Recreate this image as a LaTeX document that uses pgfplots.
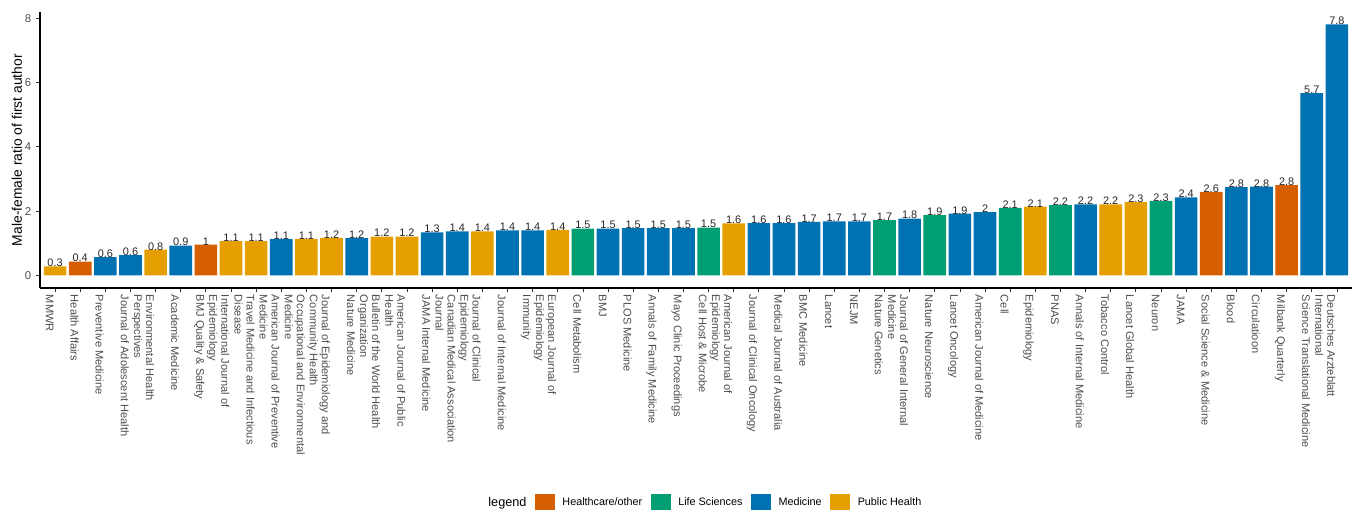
\documentclass[border=0pt]{standalone}
\usepackage{fontspec}
\setmainfont{Liberation Sans}
\usepackage{pgfplots}
\pgfplotsset{compat=1.18}
\usepackage{pgfplotstable}

\definecolor{hc}{HTML}{D55E00}
\definecolor{ls}{HTML}{009E73}
\definecolor{med}{HTML}{0072B2}
\definecolor{ph}{HTML}{E69F00}
\definecolor{tickgray}{HTML}{4D4D4D}

% x = position of the journal (sorted by ratio), y = ratio, lab = printed value
\pgfplotstableread{
x  y    lab
2  0.43 0.4
7  0.96 1
47 2.60 2.6
50 2.81 2.8
}\hcdata
\pgfplotstableread{
x  y    lab
22 1.46 1.5
27 1.49 1.5
34 1.72 1.7
36 1.88 1.9
39 2.10 2.1
41 2.19 2.2
45 2.32 2.3
}\lsdata
\pgfplotstableread{
x  y    lab
3  0.57 0.6
4  0.63 0.6
6  0.93 0.9
10 1.13 1.1
13 1.16 1.2
16 1.34 1.3
17 1.37 1.4
19 1.40 1.4
20 1.40 1.4
23 1.46 1.5
24 1.47 1.5
25 1.47 1.5
26 1.47 1.5
29 1.63 1.6
30 1.63 1.6
31 1.67 1.7
32 1.68 1.7
33 1.68 1.7
35 1.77 1.8
37 1.92 1.9
38 1.97 2
42 2.21 2.2
46 2.43 2.4
48 2.75 2.8
49 2.76 2.8
51 5.67 5.7
52 7.81 7.8
}\meddata
\pgfplotstableread{
x  y    lab
1  0.28 0.3
5  0.80 0.8
8  1.07 1.1
9  1.07 1.1
11 1.14 1.1
12 1.17 1.2
14 1.21 1.2
15 1.21 1.2
18 1.37 1.4
21 1.42 1.4
28 1.62 1.6
40 2.14 2.1
43 2.21 2.2
44 2.28 2.3
}\phdata

\begin{document}
\begin{tikzpicture}
\begin{axis}[
  at={(30pt,166.5pt)}, anchor=south west,
  scale only axis, width=984pt, height=206.85pt,
  xmin=0.4, xmax=52.6, ymin=-0.39, ymax=8.19,
  axis x line=bottom, axis y line=left,
  axis line style={-, black, line width=0.8pt},
  tick align=outside, major tick length=3pt,
  tick style={black!80, line width=0.6pt},
  ytick={0,2,4,6,8},
  /pgf/number format/assume math mode=true,
  yticklabel style={font=\fontsize{8.5}{10}\selectfont, text=tickgray},
  xtick={1,...,52},
  xticklabels={
    {MMWR},
    {Health Affairs},
    {Preventive Medicine},
    {Journal of Adolescent Health},
    {Environmental Health\\Perspectives},
    {Academic Medicine},
    {BMJ Quality \& Safety},
    {International Journal of\\Epidemiology},
    {Travel Medicine and Infectious\\Disease},
    {American Journal of Preventive\\Medicine},
    {Occupational and Environmental\\Medicine},
    {Journal of Epidemiology and\\Community Health},
    {Nature Medicine},
    {Bulletin of the World Health\\Organization},
    {American Journal of Public\\Health},
    {JAMA Internal Medicine},
    {Canadian Medical Association\\Journal},
    {Journal of Clinical\\Epidemiology},
    {Journal of Internal Medicine},
    {Immunity},
    {European Journal of\\Epidemiology},
    {Cell Metabolism},
    {BMJ},
    {PLOS Medicine},
    {Annals of Family Medicine},
    {Mayo Clinic Proceedings},
    {Cell Host \& Microbe},
    {American Journal of\\Epidemiology},
    {Journal of Clinical Oncology},
    {Medical Journal of Australia},
    {BMC Medicine},
    {Lancet},
    {NEJM},
    {Nature Genetics},
    {Journal of General Internal\\Medicine},
    {Nature Neuroscience},
    {Lancet Oncology},
    {American Journal of Medicine},
    {Cell},
    {Epidemiology},
    {PNAS},
    {Annals of Internal Medicine},
    {Tobacco Control},
    {Lancet Global Health},
    {Neuron},
    {JAMA},
    {Social Science \& Medicine},
    {Blood},
    {Circulatioon},
    {Milbank Quarterly},
    {Science Translational Medicine},
    {Deutsches Arzteblatt\\International}},
  xticklabel style={font=\fontsize{8.3}{9}\selectfont, text=tickgray,
    align=left, yshift=-1pt, rotate=-90, anchor=north west, inner sep=1pt},
  ylabel={Male-female ratio of first author},
  every axis y label/.style={at={(axis description cs:-0.0175,0.5)},
    rotate=90, anchor=center, font=\fontsize{10.4}{12}\selectfont},
  nodes near coords style={font=\fontsize{8.2}{9}\selectfont, text=black!85,
    anchor=south, inner sep=0pt, yshift=-0.5pt},
  legend columns=5,
  legend image code/.code={\fill[#1] (0pt,-6.4pt) rectangle (15pt,6.4pt);},
  legend style={at={(axis description cs:0.505,-0.779)}, anchor=center,
    draw=none, fill=none, font=\fontsize{8.1}{9}\selectfont,
    /tikz/every odd column/.append style={column sep=3.5pt},
    /tikz/every even column/.append style={column sep=4.5pt}},
]
\addplot[ybar, bar width=0.9, bar shift=0pt, fill=hc, draw=none, forget plot,
  nodes near coords, point meta=explicit symbolic]
  table[x=x, y=y, meta=lab] {\hcdata};
\addplot[ybar, bar width=0.9, bar shift=0pt, fill=ls, draw=none, forget plot,
  nodes near coords, point meta=explicit symbolic]
  table[x=x, y=y, meta=lab] {\lsdata};
\addplot[ybar, bar width=0.9, bar shift=0pt, fill=med, draw=none, forget plot,
  nodes near coords, point meta=explicit symbolic]
  table[x=x, y=y, meta=lab] {\meddata};
\addplot[ybar, bar width=0.9, bar shift=0pt, fill=ph, draw=none, forget plot,
  nodes near coords, point meta=explicit symbolic]
  table[x=x, y=y, meta=lab] {\phdata};

\addlegendimage{empty legend}
\addlegendentry{\fontsize{9.5}{10}\selectfont legend}
\addlegendimage{fill=hc, draw=none}
\addlegendentry{Healthcare/other}
\addlegendimage{fill=ls, draw=none}
\addlegendentry{Life Sciences}
\addlegendimage{fill=med, draw=none}
\addlegendentry{Medicine}
\addlegendimage{fill=ph, draw=none}
\addlegendentry{Public Health}
\end{axis}
\pgfresetboundingbox
\path[use as bounding box] (0,0) rectangle (1014pt,382.5pt);
\end{tikzpicture}
\end{document}
